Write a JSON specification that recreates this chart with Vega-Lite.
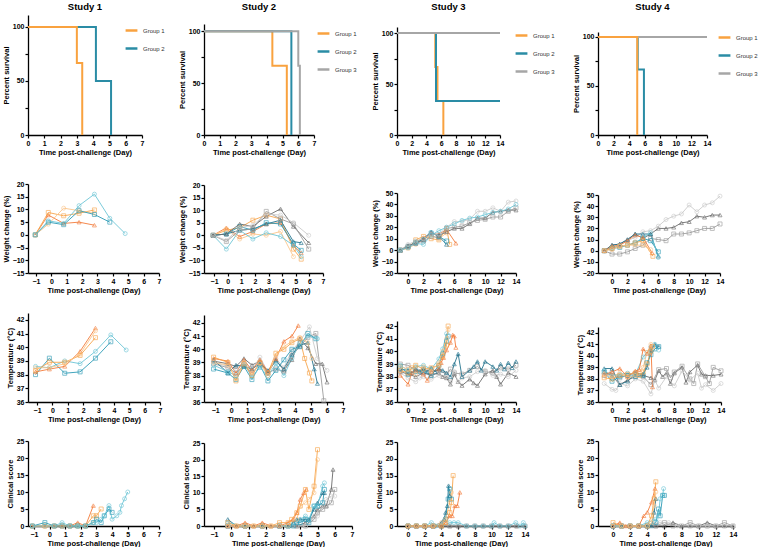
{
"$schema": "https://vega.github.io/schema/vega-lite/v6.json",
"padding": {"left": 2, "top": 1, "right": 0, "bottom": 0},
"config": {
 "view": {"stroke": null},
 "font": "Liberation Sans",
 "axis": {"grid": false, "labelOverlap": false, "labelFlush": false, "domainColor": "#000", "domainWidth": 1.3, "tickColor": "#000", "tickWidth": 1.2, "tickSize": 3, "labelFont": "Liberation Sans", "labelFontWeight": "bold", "labelFontSize": 7, "labelColor": "#000", "titleFont": "Liberation Sans", "titleFontWeight": "bold", "titleFontSize": 7.5, "titleColor": "#000", "labelPadding": 1, "titlePadding": 2},
 "title": {"font": "Liberation Sans", "fontSize": 9.5, "fontWeight": "bold", "color": "#000", "offset": 4},
 "legend": {"title": null, "symbolType": "stroke", "symbolStrokeWidth": 2.5, "symbolSize": 140, "labelFontSize": 6, "labelFont": "Liberation Sans", "labelColor": "#333", "rowPadding": 5, "labelOffset": 4}
},
"datasets": {
 "s1": [{"g":"Group 2","x":0,"y":100},{"g":"Group 2","x":4.17,"y":50},{"g":"Group 2","x":5.1,"y":0},{"g":"Group 1","x":0,"y":100},{"g":"Group 1","x":3.0,"y":66.7},{"g":"Group 1","x":3.33,"y":0}],
 "s2": [{"g":"Group 1","x":0,"y":100},{"g":"Group 1","x":4.35,"y":66.7},{"g":"Group 1","x":5.27,"y":0},{"g":"Group 2","x":0,"y":100},{"g":"Group 2","x":5.56,"y":0},{"g":"Group 3","x":0,"y":100},{"g":"Group 3","x":6.0,"y":66.7},{"g":"Group 3","x":6.1,"y":0}],
 "s3": [{"g":"Group 1","x":0,"y":100},{"g":"Group 1","x":5.2,"y":66.7},{"g":"Group 1","x":5.5,"y":33.3},{"g":"Group 1","x":6.3,"y":0},{"g":"Group 2","x":0,"y":100},{"g":"Group 2","x":5.3,"y":33.3},{"g":"Group 2","x":14,"y":33.3},{"g":"Group 3","x":0,"y":100},{"g":"Group 3","x":14,"y":100}],
 "s4": [{"g":"Group 2","x":0,"y":100},{"g":"Group 2","x":5.1,"y":66.7},{"g":"Group 2","x":5.9,"y":0},{"g":"Group 3","x":0,"y":100},{"g":"Group 3","x":14,"y":100},{"g":"Group 1","x":0,"y":100},{"g":"Group 1","x":5.04,"y":0}],
 "w1": [
  {"a":"g1a","x":-1.05,"y":0},{"a":"g1a","x":-0.2,"y":7.8},{"a":"g1a","x":0.8,"y":4.5},{"a":"g1a","x":1.8,"y":5.0},{"a":"g1a","x":2.8,"y":3.8},
  {"a":"g1b","x":-1.05,"y":0},{"a":"g1b","x":-0.2,"y":8.8},{"a":"g1b","x":0.8,"y":7.5},{"a":"g1b","x":1.8,"y":8.5},{"a":"g1b","x":2.8,"y":9.8},
  {"a":"g1c","x":-1.05,"y":0},{"a":"g1c","x":-0.2,"y":4.2},{"a":"g1c","x":0.8,"y":10.5},{"a":"g1c","x":1.8,"y":9.5},{"a":"g1c","x":2.8,"y":8.5},
  {"a":"g2b","x":-1.05,"y":0},{"a":"g2b","x":-0.2,"y":5.0},{"a":"g2b","x":0.8,"y":4.0},{"a":"g2b","x":1.8,"y":9.5},{"a":"g2b","x":2.8,"y":8.0},{"a":"g2b","x":3.8,"y":5.0},
  {"a":"g2c","x":-1.05,"y":0},{"a":"g2c","x":-0.2,"y":5.5},{"a":"g2c","x":0.8,"y":4.5},{"a":"g2c","x":1.8,"y":11.5},{"a":"g2c","x":2.8,"y":16.0},{"a":"g2c","x":3.8,"y":6.5},{"a":"g2c","x":4.8,"y":0.5}],
 "w2": [
  {"a":"g1a","x":-1.07,"y":0},{"a":"g1a","x":-0.1,"y":3},{"a":"g1a","x":0.88,"y":-0.5},{"a":"g1a","x":1.85,"y":1.5},{"a":"g1a","x":2.83,"y":4.5},{"a":"g1a","x":3.88,"y":5},{"a":"g1a","x":4.83,"y":-4},{"a":"g1a","x":5.4,"y":-7},
  {"a":"g1b","x":-1.07,"y":0},{"a":"g1b","x":-0.1,"y":2},{"a":"g1b","x":0.88,"y":3},{"a":"g1b","x":1.85,"y":6},{"a":"g1b","x":2.83,"y":8},{"a":"g1b","x":3.88,"y":6.5},{"a":"g1b","x":4.83,"y":-5.5},{"a":"g1b","x":5.4,"y":-9.5},
  {"a":"g1c","x":-1.07,"y":0},{"a":"g1c","x":-0.1,"y":2.5},{"a":"g1c","x":0.88,"y":-1.5},{"a":"g1c","x":1.85,"y":0.5},{"a":"g1c","x":2.83,"y":0},{"a":"g1c","x":3.88,"y":1.5},{"a":"g1c","x":4.83,"y":-8.5},
  {"a":"g2a","x":-1.07,"y":0},{"a":"g2a","x":-0.1,"y":0.5},{"a":"g2a","x":0.88,"y":2},{"a":"g2a","x":1.85,"y":2.5},{"a":"g2a","x":2.83,"y":4.5},{"a":"g2a","x":3.88,"y":6},{"a":"g2a","x":4.83,"y":-2.5},{"a":"g2a","x":5.4,"y":-3},
  {"a":"g2b","x":-1.07,"y":0},{"a":"g2b","x":-0.1,"y":0.5},{"a":"g2b","x":0.88,"y":3.5},{"a":"g2b","x":1.85,"y":2},{"a":"g2b","x":2.83,"y":5},{"a":"g2b","x":3.88,"y":4.5},{"a":"g2b","x":4.83,"y":-3.5},{"a":"g2b","x":5.4,"y":-6},
  {"a":"g2c","x":-1.07,"y":0},{"a":"g2c","x":-0.1,"y":-5.5},{"a":"g2c","x":0.88,"y":2},{"a":"g2c","x":1.85,"y":-1.5},{"a":"g2c","x":2.83,"y":1},{"a":"g2c","x":3.88,"y":-0.5},{"a":"g2c","x":4.83,"y":-4},{"a":"g2c","x":5.4,"y":-8.5},
  {"a":"g3a","x":-1.07,"y":0},{"a":"g3a","x":-0.1,"y":0.5},{"a":"g3a","x":0.88,"y":4.5},{"a":"g3a","x":1.85,"y":3.5},{"a":"g3a","x":2.83,"y":7.5},{"a":"g3a","x":3.88,"y":10.5},{"a":"g3a","x":4.83,"y":3.5},{"a":"g3a","x":5.95,"y":-3},
  {"a":"g3b","x":-1.07,"y":0},{"a":"g3b","x":-0.1,"y":-2.5},{"a":"g3b","x":0.88,"y":2},{"a":"g3b","x":1.85,"y":2.5},{"a":"g3b","x":2.83,"y":9.5},{"a":"g3b","x":3.88,"y":6.5},{"a":"g3b","x":4.83,"y":4.5},{"a":"g3b","x":5.95,"y":-5.5},
  {"a":"g3c","x":-1.07,"y":0},{"a":"g3c","x":-0.1,"y":-2},{"a":"g3c","x":0.88,"y":3},{"a":"g3c","x":1.85,"y":4},{"a":"g3c","x":2.83,"y":8.5},{"a":"g3c","x":3.88,"y":8},{"a":"g3c","x":4.83,"y":5},{"a":"g3c","x":5.95,"y":0}],
 "w3": [
  {"a":"g1a","x":-1,"y":0},{"a":"g1a","x":0,"y":3},{"a":"g1a","x":1,"y":7},{"a":"g1a","x":2,"y":11},{"a":"g1a","x":3,"y":14},{"a":"g1a","x":4,"y":14},{"a":"g1a","x":5,"y":18},{"a":"g1a","x":6.2,"y":6},
  {"a":"g1b","x":-1,"y":0},{"a":"g1b","x":0,"y":2},{"a":"g1b","x":1,"y":9},{"a":"g1b","x":2,"y":12},{"a":"g1b","x":3,"y":10},{"a":"g1b","x":4,"y":9},{"a":"g1b","x":5,"y":19},{"a":"g1b","x":5.4,"y":5},
  {"a":"g1c","x":-1,"y":0},{"a":"g1c","x":0,"y":2},{"a":"g1c","x":1,"y":5},{"a":"g1c","x":2,"y":10},{"a":"g1c","x":3,"y":13},{"a":"g1c","x":4,"y":10},{"a":"g1c","x":5,"y":15},
  {"a":"g2a","x":-1,"y":0},{"a":"g2a","x":0,"y":4},{"a":"g2a","x":1,"y":6},{"a":"g2a","x":2,"y":10},{"a":"g2a","x":3,"y":16},{"a":"g2a","x":4,"y":12},{"a":"g2a","x":5,"y":5},
  {"a":"g2b","x":-1,"y":0},{"a":"g2b","x":0,"y":3},{"a":"g2b","x":1,"y":7},{"a":"g2b","x":2,"y":9},{"a":"g2b","x":3,"y":15},{"a":"g2b","x":4,"y":12},{"a":"g2b","x":5,"y":8},
  {"a":"g3a","x":-1,"y":0},{"a":"g3a","x":0,"y":4},{"a":"g3a","x":1,"y":6},{"a":"g3a","x":2,"y":9},{"a":"g3a","x":3,"y":15},{"a":"g3a","x":4,"y":13},{"a":"g3a","x":5,"y":16},{"a":"g3a","x":6,"y":19},{"a":"g3a","x":7,"y":19},{"a":"g3a","x":8,"y":23},{"a":"g3a","x":9,"y":28},{"a":"g3a","x":10,"y":28},{"a":"g3a","x":11,"y":33},{"a":"g3a","x":12,"y":34},{"a":"g3a","x":13,"y":35},{"a":"g3a","x":14,"y":35},
  {"a":"g3b","x":-1,"y":0},{"a":"g3b","x":0,"y":3},{"a":"g3b","x":1,"y":6},{"a":"g3b","x":2,"y":8},{"a":"g3b","x":3,"y":12},{"a":"g3b","x":4,"y":11},{"a":"g3b","x":5,"y":19},{"a":"g3b","x":6,"y":20},{"a":"g3b","x":7,"y":21},{"a":"g3b","x":8,"y":24},{"a":"g3b","x":9,"y":26},{"a":"g3b","x":10,"y":27},{"a":"g3b","x":11,"y":29},{"a":"g3b","x":12,"y":29},{"a":"g3b","x":13,"y":34},{"a":"g3b","x":14,"y":37},
  {"a":"g3c","x":-1,"y":0},{"a":"g3c","x":0,"y":5},{"a":"g3c","x":1,"y":8},{"a":"g3c","x":2,"y":10},{"a":"g3c","x":3,"y":14},{"a":"g3c","x":4,"y":14},{"a":"g3c","x":5,"y":20},{"a":"g3c","x":6,"y":25},{"a":"g3c","x":7,"y":25},{"a":"g3c","x":8,"y":27},{"a":"g3c","x":9,"y":34},{"a":"g3c","x":10,"y":34},{"a":"g3c","x":11,"y":37},{"a":"g3c","x":12,"y":34},{"a":"g3c","x":13,"y":42},{"a":"g3c","x":14,"y":43},
  {"a":"g2c","x":-1,"y":0},{"a":"g2c","x":0,"y":2},{"a":"g2c","x":1,"y":6},{"a":"g2c","x":2,"y":5},{"a":"g2c","x":3,"y":13},{"a":"g2c","x":4,"y":17},{"a":"g2c","x":5,"y":20},{"a":"g2c","x":6,"y":23},{"a":"g2c","x":7,"y":26},{"a":"g2c","x":8,"y":28},{"a":"g2c","x":9,"y":29},{"a":"g2c","x":10,"y":31},{"a":"g2c","x":11,"y":33},{"a":"g2c","x":12,"y":34},{"a":"g2c","x":13,"y":36},{"a":"g2c","x":14,"y":40}],
 "w4": [
  {"a":"g3a","x":-1,"y":0},{"a":"g3a","x":0,"y":5},{"a":"g3a","x":1,"y":6},{"a":"g3a","x":2,"y":10},{"a":"g3a","x":3,"y":15},{"a":"g3a","x":4,"y":11},{"a":"g3a","x":5,"y":15},{"a":"g3a","x":6,"y":20},{"a":"g3a","x":7,"y":20},{"a":"g3a","x":8,"y":21},{"a":"g3a","x":9,"y":25},{"a":"g3a","x":10,"y":26},{"a":"g3a","x":11,"y":31},{"a":"g3a","x":12,"y":30},{"a":"g3a","x":13,"y":32},{"a":"g3a","x":14,"y":32},
  {"a":"g3b","x":-1,"y":0},{"a":"g3b","x":0,"y":-3},{"a":"g3b","x":1,"y":-3},{"a":"g3b","x":2,"y":-1},{"a":"g3b","x":3,"y":2},{"a":"g3b","x":4,"y":5},{"a":"g3b","x":5,"y":11},{"a":"g3b","x":6,"y":10},{"a":"g3b","x":7,"y":9},{"a":"g3b","x":8,"y":15},{"a":"g3b","x":9,"y":15},{"a":"g3b","x":10,"y":16},{"a":"g3b","x":11,"y":18},{"a":"g3b","x":12,"y":20},{"a":"g3b","x":13,"y":20},{"a":"g3b","x":14,"y":24},
  {"a":"g3c","x":-1,"y":0},{"a":"g3c","x":0,"y":2},{"a":"g3c","x":1,"y":5},{"a":"g3c","x":2,"y":9},{"a":"g3c","x":3,"y":12},{"a":"g3c","x":4,"y":17},{"a":"g3c","x":5,"y":18},{"a":"g3c","x":6,"y":22},{"a":"g3c","x":7,"y":28},{"a":"g3c","x":8,"y":31},{"a":"g3c","x":9,"y":33},{"a":"g3c","x":10,"y":41},{"a":"g3c","x":11,"y":35},{"a":"g3c","x":12,"y":41},{"a":"g3c","x":13,"y":43},{"a":"g3c","x":14,"y":49},
  {"a":"g2a","x":-1,"y":0},{"a":"g2a","x":0,"y":5},{"a":"g2a","x":1,"y":6},{"a":"g2a","x":2,"y":10},{"a":"g2a","x":3,"y":15},{"a":"g2a","x":4,"y":15},{"a":"g2a","x":5,"y":15},{"a":"g2a","x":6,"y":-5},
  {"a":"g2b","x":-1,"y":0},{"a":"g2b","x":0,"y":2},{"a":"g2b","x":1,"y":3},{"a":"g2b","x":2,"y":5},{"a":"g2b","x":3,"y":7},{"a":"g2b","x":4,"y":11},{"a":"g2b","x":5,"y":9},{"a":"g2b","x":6,"y":-1},
  {"a":"g2c","x":-1,"y":0},{"a":"g2c","x":0,"y":3},{"a":"g2c","x":1,"y":4},{"a":"g2c","x":2,"y":5},{"a":"g2c","x":3,"y":7},{"a":"g2c","x":4,"y":12},{"a":"g2c","x":5,"y":16},{"a":"g2c","x":6,"y":-6},
  {"a":"g1a","x":-1,"y":0},{"a":"g1a","x":0,"y":4},{"a":"g1a","x":1,"y":5},{"a":"g1a","x":2,"y":9},{"a":"g1a","x":3,"y":14},{"a":"g1a","x":4,"y":12},{"a":"g1a","x":5.2,"y":-2},
  {"a":"g1b","x":-1,"y":0},{"a":"g1b","x":0,"y":2},{"a":"g1b","x":1,"y":4},{"a":"g1b","x":2,"y":5},{"a":"g1b","x":3,"y":7},{"a":"g1b","x":4,"y":9},{"a":"g1b","x":5.3,"y":-5},
  {"a":"g1c","x":-1,"y":0},{"a":"g1c","x":0,"y":1},{"a":"g1c","x":1,"y":4},{"a":"g1c","x":2,"y":5},{"a":"g1c","x":3,"y":5},{"a":"g1c","x":4,"y":5},{"a":"g1c","x":5,"y":1}],
 "t1": [
  {"a":"g2c","x":-1.1,"y":38.6},{"a":"g2c","x":-0.2,"y":38.5},{"a":"g2c","x":0.8,"y":39.0},{"a":"g2c","x":1.8,"y":38.8},{"a":"g2c","x":2.8,"y":39.7},{"a":"g2c","x":3.8,"y":40.9},{"a":"g2c","x":4.8,"y":39.8},
  {"a":"g2b","x":-1.1,"y":38.0},{"a":"g2b","x":-0.2,"y":39.2},{"a":"g2b","x":0.8,"y":38.1},{"a":"g2b","x":1.8,"y":38.2},{"a":"g2b","x":2.8,"y":39.2},{"a":"g2b","x":3.8,"y":40.4},
  {"a":"g1a","x":-1.1,"y":38.2},{"a":"g1a","x":-0.2,"y":38.4},{"a":"g1a","x":0.8,"y":38.6},{"a":"g1a","x":1.8,"y":39.7},{"a":"g1a","x":2.8,"y":41.4},
  {"a":"g1b","x":-1.1,"y":38.3},{"a":"g1b","x":-0.2,"y":38.9},{"a":"g1b","x":0.8,"y":38.9},{"a":"g1b","x":1.8,"y":39.4},{"a":"g1b","x":2.8,"y":40.7},
  {"a":"g1c","x":-1.1,"y":38.5},{"a":"g1c","x":-0.2,"y":38.5},{"a":"g1c","x":0.8,"y":38.8},{"a":"g1c","x":1.8,"y":39.5},{"a":"g1c","x":2.8,"y":41.2}],
 "t2": [
  {"a":"g3a","x":-1.1,"y":39.1},{"a":"g3a","x":-0.2,"y":38.9},{"a":"g3a","x":0.3,"y":38.7},{"a":"g3a","x":0.8,"y":39.3},{"a":"g3a","x":1.3,"y":38.8},{"a":"g3a","x":1.8,"y":39.1},{"a":"g3a","x":2.3,"y":38.2},{"a":"g3a","x":2.8,"y":39.2},{"a":"g3a","x":3.3,"y":38.4},{"a":"g3a","x":3.8,"y":39.2},{"a":"g3a","x":4.3,"y":40.8},{"a":"g3a","x":4.8,"y":40.1},{"a":"g3a","x":5.3,"y":38.9},{"a":"g3a","x":5.7,"y":38.9},{"a":"g3a","x":6.0,"y":37.5},
  {"a":"g3b","x":-1.1,"y":38.9},{"a":"g3b","x":-0.2,"y":38.6},{"a":"g3b","x":0.3,"y":38.2},{"a":"g3b","x":0.8,"y":38.8},{"a":"g3b","x":1.3,"y":38.2},{"a":"g3b","x":1.8,"y":38.9},{"a":"g3b","x":2.3,"y":38.2},{"a":"g3b","x":2.8,"y":38.5},{"a":"g3b","x":3.3,"y":38.3},{"a":"g3b","x":3.8,"y":39.5},{"a":"g3b","x":4.3,"y":40.2},{"a":"g3b","x":4.8,"y":40.9},{"a":"g3b","x":5.3,"y":41.2},{"a":"g3b","x":5.8,"y":36.1},
  {"a":"g3c","x":-1.1,"y":39.0},{"a":"g3c","x":-0.2,"y":38.7},{"a":"g3c","x":0.3,"y":38.5},{"a":"g3c","x":0.8,"y":39.0},{"a":"g3c","x":1.3,"y":38.4},{"a":"g3c","x":1.8,"y":39.4},{"a":"g3c","x":2.3,"y":38.3},{"a":"g3c","x":2.8,"y":39.3},{"a":"g3c","x":3.3,"y":38.6},{"a":"g3c","x":3.8,"y":39.9},{"a":"g3c","x":4.3,"y":40.6},{"a":"g3c","x":4.9,"y":41.7},{"a":"g3c","x":5.4,"y":39.3},{"a":"g3c","x":6.0,"y":38.4},
  {"a":"g2a","x":-1.1,"y":39.2},{"a":"g2a","x":-0.2,"y":38.2},{"a":"g2a","x":0.3,"y":38.8},{"a":"g2a","x":0.8,"y":38.7},{"a":"g2a","x":1.3,"y":38.5},{"a":"g2a","x":1.8,"y":38.9},{"a":"g2a","x":2.3,"y":38.4},{"a":"g2a","x":2.8,"y":39.1},{"a":"g2a","x":3.3,"y":38.5},{"a":"g2a","x":3.8,"y":39.6},{"a":"g2a","x":4.3,"y":40.3},{"a":"g2a","x":4.8,"y":40.5},{"a":"g2a","x":5.2,"y":38.5},{"a":"g2a","x":5.4,"y":37.4},
  {"a":"g2b","x":-1.1,"y":38.5},{"a":"g2b","x":-0.2,"y":38.2},{"a":"g2b","x":0.3,"y":37.7},{"a":"g2b","x":0.8,"y":38.7},{"a":"g2b","x":1.3,"y":37.7},{"a":"g2b","x":1.8,"y":38.8},{"a":"g2b","x":2.3,"y":37.6},{"a":"g2b","x":2.8,"y":38.4},{"a":"g2b","x":3.3,"y":39.2},{"a":"g2b","x":3.8,"y":40.0},{"a":"g2b","x":4.3,"y":40.2},{"a":"g2b","x":4.8,"y":41.2},{"a":"g2b","x":5.3,"y":40.8},
  {"a":"g2c","x":-1.1,"y":38.8},{"a":"g2c","x":-0.2,"y":38.3},{"a":"g2c","x":0.3,"y":38.0},{"a":"g2c","x":0.8,"y":38.9},{"a":"g2c","x":1.3,"y":37.9},{"a":"g2c","x":1.8,"y":38.6},{"a":"g2c","x":2.3,"y":38.0},{"a":"g2c","x":2.8,"y":38.9},{"a":"g2c","x":3.3,"y":38.0},{"a":"g2c","x":3.8,"y":39.3},{"a":"g2c","x":4.3,"y":40.5},{"a":"g2c","x":4.8,"y":41.0},{"a":"g2c","x":5.4,"y":40.8},
  {"a":"g1a","x":-1.1,"y":39.3},{"a":"g1a","x":-0.2,"y":39.1},{"a":"g1a","x":0.3,"y":38.2},{"a":"g1a","x":0.8,"y":39.2},{"a":"g1a","x":1.3,"y":38.4},{"a":"g1a","x":1.8,"y":39.2},{"a":"g1a","x":2.3,"y":38.3},{"a":"g1a","x":2.8,"y":39.3},{"a":"g1a","x":3.3,"y":40.6},{"a":"g1a","x":3.8,"y":41.0},{"a":"g1a","x":4.2,"y":41.8},
  {"a":"g1b","x":-1.1,"y":39.4},{"a":"g1b","x":-0.2,"y":39.0},{"a":"g1b","x":0.3,"y":37.6},{"a":"g1b","x":0.8,"y":38.9},{"a":"g1b","x":1.3,"y":38.0},{"a":"g1b","x":1.8,"y":39.0},{"a":"g1b","x":2.3,"y":38.2},{"a":"g1b","x":2.8,"y":39.7},{"a":"g1b","x":3.3,"y":40.0},{"a":"g1b","x":3.8,"y":40.5},{"a":"g1b","x":4.3,"y":40.8},{"a":"g1b","x":4.6,"y":39.3},{"a":"g1b","x":4.9,"y":38.2},{"a":"g1b","x":5.05,"y":37.6},
  {"a":"g1c","x":-1.1,"y":39.0},{"a":"g1c","x":-0.2,"y":38.8},{"a":"g1c","x":0.3,"y":37.8},{"a":"g1c","x":0.8,"y":39.0},{"a":"g1c","x":1.3,"y":38.2},{"a":"g1c","x":1.8,"y":38.9},{"a":"g1c","x":2.3,"y":38.0},{"a":"g1c","x":2.8,"y":39.5},{"a":"g1c","x":3.3,"y":40.2},{"a":"g1c","x":3.8,"y":40.6},{"a":"g1c","x":4.3,"y":40.9},{"a":"g1c","x":4.8,"y":40.5},{"a":"g1c","x":5.05,"y":39.3}],
 "t3": [
  {"a":"g3a","x":-1,"y":38.4},{"a":"g3a","x":0,"y":38.2},{"a":"g3a","x":1,"y":38.0},{"a":"g3a","x":2,"y":38.3},{"a":"g3a","x":3,"y":38.1},{"a":"g3a","x":4,"y":38.3},{"a":"g3a","x":4.5,"y":38.0},{"a":"g3a","x":5,"y":37.9},{"a":"g3a","x":5.5,"y":37.4},{"a":"g3a","x":6,"y":38.2},{"a":"g3a","x":6.5,"y":37.6},{"a":"g3a","x":7,"y":37.3},{"a":"g3a","x":8,"y":37.8},{"a":"g3a","x":8.5,"y":37.5},{"a":"g3a","x":9,"y":37.3},{"a":"g3a","x":10,"y":38.2},{"a":"g3a","x":11,"y":38.5},{"a":"g3a","x":11.5,"y":38.0},{"a":"g3a","x":12,"y":37.4},{"a":"g3a","x":13,"y":38.3},{"a":"g3a","x":14,"y":38.0},
  {"a":"g3b","x":-1,"y":39.0},{"a":"g3b","x":0,"y":38.9},{"a":"g3b","x":1,"y":38.5},{"a":"g3b","x":2,"y":38.6},{"a":"g3b","x":3,"y":38.4},{"a":"g3b","x":4,"y":38.5},{"a":"g3b","x":5,"y":38.2},{"a":"g3b","x":5.5,"y":38.6},{"a":"g3b","x":6,"y":38.3},{"a":"g3b","x":7,"y":38.2},{"a":"g3b","x":8,"y":38.5},{"a":"g3b","x":9,"y":38.8},{"a":"g3b","x":10,"y":38.4},{"a":"g3b","x":11,"y":38.3},{"a":"g3b","x":12,"y":38.7},{"a":"g3b","x":13,"y":38.6},{"a":"g3b","x":14,"y":38.9},
  {"a":"g3c","x":-1,"y":38.3},{"a":"g3c","x":0,"y":37.9},{"a":"g3c","x":1,"y":37.6},{"a":"g3c","x":1.5,"y":37.9},{"a":"g3c","x":2,"y":38.0},{"a":"g3c","x":3,"y":37.8},{"a":"g3c","x":4,"y":38.1},{"a":"g3c","x":5,"y":38.0},{"a":"g3c","x":5.5,"y":37.6},{"a":"g3c","x":6,"y":38.4},{"a":"g3c","x":6.5,"y":37.6},{"a":"g3c","x":7,"y":37.9},{"a":"g3c","x":8,"y":38.0},{"a":"g3c","x":9,"y":38.4},{"a":"g3c","x":10,"y":38.5},{"a":"g3c","x":11,"y":38.1},{"a":"g3c","x":12,"y":38.2},{"a":"g3c","x":13,"y":38.0},{"a":"g3c","x":14,"y":38.5},
  {"a":"g2a","x":-1,"y":38.6},{"a":"g2a","x":0,"y":38.5},{"a":"g2a","x":0.5,"y":38.3},{"a":"g2a","x":1,"y":38.6},{"a":"g2a","x":1.5,"y":38.4},{"a":"g2a","x":2,"y":38.6},{"a":"g2a","x":2.5,"y":38.4},{"a":"g2a","x":3,"y":38.7},{"a":"g2a","x":3.5,"y":38.4},{"a":"g2a","x":4,"y":38.6},{"a":"g2a","x":4.5,"y":38.5},{"a":"g2a","x":5,"y":38.3},{"a":"g2a","x":5.5,"y":38.0},{"a":"g2a","x":6,"y":39.0},{"a":"g2a","x":6.5,"y":39.8},{"a":"g2a","x":7,"y":38.0},{"a":"g2a","x":8,"y":38.5},{"a":"g2a","x":8.5,"y":38.8},{"a":"g2a","x":9,"y":39.2},{"a":"g2a","x":9.5,"y":38.5},{"a":"g2a","x":10,"y":39.2},{"a":"g2a","x":11,"y":38.8},{"a":"g2a","x":11.5,"y":38.5},{"a":"g2a","x":12,"y":39.0},{"a":"g2a","x":12.5,"y":38.6},{"a":"g2a","x":13,"y":39.1},{"a":"g2a","x":13.5,"y":38.7},{"a":"g2a","x":14,"y":39.2},
  {"a":"g2b","x":-1,"y":38.8},{"a":"g2b","x":0,"y":38.2},{"a":"g2b","x":1,"y":38.4},{"a":"g2b","x":2,"y":38.5},{"a":"g2b","x":3,"y":38.1},{"a":"g2b","x":4,"y":38.9},{"a":"g2b","x":4.5,"y":39.8},{"a":"g2b","x":5,"y":40.8},{"a":"g2b","x":5.2,"y":41.2},
  {"a":"g2c","x":-1,"y":38.9},{"a":"g2c","x":0,"y":38.5},{"a":"g2c","x":1,"y":38.8},{"a":"g2c","x":2,"y":38.9},{"a":"g2c","x":3,"y":38.6},{"a":"g2c","x":4,"y":39.4},{"a":"g2c","x":4.5,"y":40.2},{"a":"g2c","x":5,"y":41.4},
  {"a":"g1a","x":-1,"y":38.1},{"a":"g1a","x":0,"y":37.4},{"a":"g1a","x":0.5,"y":38.3},{"a":"g1a","x":1,"y":38.5},{"a":"g1a","x":2,"y":38.2},{"a":"g1a","x":2.5,"y":37.7},{"a":"g1a","x":3,"y":38.4},{"a":"g1a","x":4,"y":38.6},{"a":"g1a","x":4.3,"y":39.1},{"a":"g1a","x":4.6,"y":39.5},{"a":"g1a","x":5,"y":40.1},{"a":"g1a","x":5.5,"y":40.7},{"a":"g1a","x":5.8,"y":41.3},{"a":"g1a","x":6,"y":41.2},{"a":"g1a","x":6.2,"y":40.3},
  {"a":"g1b","x":-1,"y":38.5},{"a":"g1b","x":0,"y":38.3},{"a":"g1b","x":0.5,"y":38.7},{"a":"g1b","x":1,"y":38.9},{"a":"g1b","x":2,"y":38.6},{"a":"g1b","x":3,"y":38.7},{"a":"g1b","x":4,"y":38.9},{"a":"g1b","x":4.5,"y":39.6},{"a":"g1b","x":5,"y":40.5},{"a":"g1b","x":5.2,"y":42.0},
  {"a":"g1c","x":-1,"y":38.8},{"a":"g1c","x":0,"y":38.6},{"a":"g1c","x":1,"y":38.2},{"a":"g1c","x":2,"y":38.8},{"a":"g1c","x":3,"y":38.4},{"a":"g1c","x":4,"y":39.1},{"a":"g1c","x":4.5,"y":40.0},{"a":"g1c","x":5,"y":41.0},{"a":"g1c","x":5.2,"y":41.7}],
 "t4": [
  {"a":"g3a","x":-1,"y":38.6},{"a":"g3a","x":0,"y":38.3},{"a":"g3a","x":1,"y":37.5},{"a":"g3a","x":2,"y":37.9},{"a":"g3a","x":3,"y":38.2},{"a":"g3a","x":4,"y":38.3},{"a":"g3a","x":5,"y":38.1},{"a":"g3a","x":5.5,"y":37.9},{"a":"g3a","x":6,"y":38.7},{"a":"g3a","x":6.5,"y":38.2},{"a":"g3a","x":7,"y":38.5},{"a":"g3a","x":7.5,"y":37.6},{"a":"g3a","x":8,"y":38.5},{"a":"g3a","x":9,"y":39.0},{"a":"g3a","x":9.5,"y":37.7},{"a":"g3a","x":10,"y":38.6},{"a":"g3a","x":11,"y":39.2},{"a":"g3a","x":11.5,"y":38.4},{"a":"g3a","x":12,"y":38.3},{"a":"g3a","x":13,"y":38.3},{"a":"g3a","x":14,"y":38.4},
  {"a":"g3b","x":-1,"y":38.3},{"a":"g3b","x":0,"y":38.5},{"a":"g3b","x":1,"y":38.1},{"a":"g3b","x":2,"y":38.3},{"a":"g3b","x":3,"y":38.5},{"a":"g3b","x":4,"y":38.2},{"a":"g3b","x":5,"y":37.5},{"a":"g3b","x":6,"y":38.8},{"a":"g3b","x":7,"y":38.9},{"a":"g3b","x":7.5,"y":38.1},{"a":"g3b","x":8,"y":38.6},{"a":"g3b","x":9,"y":39.1},{"a":"g3b","x":10,"y":38.0},{"a":"g3b","x":10.5,"y":37.6},{"a":"g3b","x":11,"y":39.3},{"a":"g3b","x":12,"y":38.2},{"a":"g3b","x":12.5,"y":37.6},{"a":"g3b","x":13,"y":39.0},{"a":"g3b","x":14,"y":38.7},
  {"a":"g3c","x":-1,"y":37.6},{"a":"g3c","x":0,"y":37.1},{"a":"g3c","x":0.5,"y":37.0},{"a":"g3c","x":1,"y":37.6},{"a":"g3c","x":2,"y":37.4},{"a":"g3c","x":3,"y":38.0},{"a":"g3c","x":4,"y":37.8},{"a":"g3c","x":5,"y":36.7},{"a":"g3c","x":5.5,"y":37.9},{"a":"g3c","x":6,"y":37.2},{"a":"g3c","x":7,"y":38.2},{"a":"g3c","x":8,"y":37.4},{"a":"g3c","x":9,"y":38.7},{"a":"g3c","x":10,"y":37.9},{"a":"g3c","x":11,"y":38.5},{"a":"g3c","x":11.5,"y":37.2},{"a":"g3c","x":12,"y":37.5},{"a":"g3c","x":13,"y":37.0},{"a":"g3c","x":14,"y":37.6},
  {"a":"g2a","x":-1,"y":38.9},{"a":"g2a","x":0,"y":38.9},{"a":"g2a","x":1,"y":37.5},{"a":"g2a","x":2,"y":37.8},{"a":"g2a","x":3,"y":38.5},{"a":"g2a","x":4,"y":38.4},{"a":"g2a","x":4.5,"y":39.0},{"a":"g2a","x":5,"y":40.5},{"a":"g2a","x":5.5,"y":41.0},{"a":"g2a","x":6,"y":40.8},
  {"a":"g2b","x":-1,"y":38.6},{"a":"g2b","x":0,"y":37.8},{"a":"g2b","x":1,"y":38.2},{"a":"g2b","x":2,"y":38.3},{"a":"g2b","x":3,"y":38.2},{"a":"g2b","x":4,"y":38.3},{"a":"g2b","x":4.5,"y":39.4},{"a":"g2b","x":5,"y":40.1},{"a":"g2b","x":5.5,"y":40.6},{"a":"g2b","x":6,"y":40.8},
  {"a":"g2c","x":-1,"y":38.7},{"a":"g2c","x":0,"y":38.3},{"a":"g2c","x":1,"y":38.4},{"a":"g2c","x":2,"y":38.5},{"a":"g2c","x":3,"y":38.4},{"a":"g2c","x":4,"y":39.9},{"a":"g2c","x":4.5,"y":40.3},{"a":"g2c","x":5,"y":40.8},{"a":"g2c","x":5.5,"y":41.0},{"a":"g2c","x":6,"y":40.5},
  {"a":"g1a","x":-1,"y":38.4},{"a":"g1a","x":0,"y":38.6},{"a":"g1a","x":1,"y":38.9},{"a":"g1a","x":2,"y":38.2},{"a":"g1a","x":3,"y":38.7},{"a":"g1a","x":3.5,"y":38.8},{"a":"g1a","x":4,"y":40.6},{"a":"g1a","x":4.5,"y":40.2},{"a":"g1a","x":5,"y":40.9},{"a":"g1a","x":5.2,"y":37.3},
  {"a":"g1b","x":-1,"y":38.1},{"a":"g1b","x":0,"y":38.0},{"a":"g1b","x":1,"y":38.3},{"a":"g1b","x":2,"y":38.4},{"a":"g1b","x":3,"y":38.5},{"a":"g1b","x":3.5,"y":38.3},{"a":"g1b","x":4,"y":38.6},{"a":"g1b","x":4.5,"y":39.3},{"a":"g1b","x":5,"y":40.4},{"a":"g1b","x":5.2,"y":40.8},
  {"a":"g1c","x":-1,"y":38.4},{"a":"g1c","x":0,"y":38.2},{"a":"g1c","x":1,"y":38.5},{"a":"g1c","x":2,"y":38.1},{"a":"g1c","x":3,"y":38.3},{"a":"g1c","x":4,"y":39.0},{"a":"g1c","x":4.5,"y":40.3},{"a":"g1c","x":5,"y":41.0}],
 "c1": [
  {"a":"g1a","x":-1.1,"y":0},{"a":"g1a","x":-0.3,"y":0},{"a":"g1a","x":0.3,"y":0},{"a":"g1a","x":0.8,"y":0},{"a":"g1a","x":1.3,"y":0},{"a":"g1a","x":1.8,"y":1},{"a":"g1a","x":2.3,"y":0},{"a":"g1a","x":2.8,"y":6},
  {"a":"g1b","x":-1.1,"y":0},{"a":"g1b","x":-0.3,"y":0},{"a":"g1b","x":0.3,"y":0},{"a":"g1b","x":0.8,"y":0},{"a":"g1b","x":1.3,"y":0},{"a":"g1b","x":1.8,"y":0},{"a":"g1b","x":2.3,"y":0},{"a":"g1b","x":2.8,"y":3},{"a":"g1b","x":3.0,"y":3},{"a":"g1b","x":3.3,"y":5},
  {"a":"g1c","x":-1.1,"y":0},{"a":"g1c","x":-0.3,"y":0},{"a":"g1c","x":0.3,"y":0},{"a":"g1c","x":0.8,"y":0},{"a":"g1c","x":1.3,"y":0},{"a":"g1c","x":1.8,"y":0},{"a":"g1c","x":2.3,"y":0},{"a":"g1c","x":2.8,"y":1},{"a":"g1c","x":3.0,"y":3},
  {"a":"g2b","x":-1.1,"y":0},{"a":"g2b","x":-0.3,"y":1},{"a":"g2b","x":0.3,"y":0},{"a":"g2b","x":0.8,"y":0},{"a":"g2b","x":1.3,"y":0},{"a":"g2b","x":1.8,"y":0},{"a":"g2b","x":2.3,"y":0},{"a":"g2b","x":2.8,"y":1},{"a":"g2b","x":3.0,"y":2},{"a":"g2b","x":3.3,"y":1},{"a":"g2b","x":3.5,"y":3},{"a":"g2b","x":3.8,"y":5},{"a":"g2b","x":4.0,"y":4},
  {"a":"g2c","x":-1.1,"y":0},{"a":"g2c","x":-0.3,"y":0},{"a":"g2c","x":0.3,"y":0},{"a":"g2c","x":0.8,"y":1},{"a":"g2c","x":1.3,"y":0},{"a":"g2c","x":1.8,"y":0},{"a":"g2c","x":2.3,"y":0},{"a":"g2c","x":2.8,"y":1},{"a":"g2c","x":3.0,"y":1},{"a":"g2c","x":3.3,"y":2},{"a":"g2c","x":3.5,"y":3},{"a":"g2c","x":3.8,"y":6},{"a":"g2c","x":4.0,"y":2},{"a":"g2c","x":4.3,"y":3},{"a":"g2c","x":4.5,"y":4},{"a":"g2c","x":4.6,"y":6},{"a":"g2c","x":4.8,"y":8},{"a":"g2c","x":5.0,"y":10}],
 "c2": [
  {"a":"g3a","x":-0.2,"y":0},{"a":"g3a","x":0.8,"y":0},{"a":"g3a","x":1.8,"y":0},{"a":"g3a","x":2.8,"y":0},{"a":"g3a","x":3.3,"y":0},{"a":"g3a","x":3.8,"y":0},{"a":"g3a","x":4.3,"y":1},{"a":"g3a","x":4.8,"y":3},{"a":"g3a","x":5.0,"y":5},{"a":"g3a","x":5.3,"y":6},{"a":"g3a","x":5.5,"y":6},{"a":"g3a","x":5.8,"y":11},{"a":"g3a","x":5.9,"y":17},
  {"a":"g3b","x":-0.2,"y":0},{"a":"g3b","x":0.8,"y":0},{"a":"g3b","x":1.8,"y":0},{"a":"g3b","x":2.8,"y":0},{"a":"g3b","x":3.8,"y":0},{"a":"g3b","x":4.3,"y":0},{"a":"g3b","x":4.8,"y":2},{"a":"g3b","x":5.0,"y":4},{"a":"g3b","x":5.3,"y":5},{"a":"g3b","x":5.5,"y":6},{"a":"g3b","x":5.8,"y":7},{"a":"g3b","x":6.0,"y":11},
  {"a":"g3c","x":-0.2,"y":0},{"a":"g3c","x":0.8,"y":0},{"a":"g3c","x":1.8,"y":0},{"a":"g3c","x":2.8,"y":0},{"a":"g3c","x":3.8,"y":0},{"a":"g3c","x":4.3,"y":0},{"a":"g3c","x":4.8,"y":3},{"a":"g3c","x":5.0,"y":3},{"a":"g3c","x":5.3,"y":6},{"a":"g3c","x":5.5,"y":8},{"a":"g3c","x":5.8,"y":9},{"a":"g3c","x":6.0,"y":9},
  {"a":"g2a","x":-0.2,"y":2},{"a":"g2a","x":0.3,"y":0},{"a":"g2a","x":0.8,"y":0},{"a":"g2a","x":1.3,"y":0},{"a":"g2a","x":1.8,"y":0},{"a":"g2a","x":2.3,"y":0},{"a":"g2a","x":2.8,"y":0},{"a":"g2a","x":3.3,"y":0},{"a":"g2a","x":3.6,"y":1},{"a":"g2a","x":3.8,"y":2},{"a":"g2a","x":4.0,"y":2},{"a":"g2a","x":4.3,"y":2},{"a":"g2a","x":4.5,"y":2},{"a":"g2a","x":4.8,"y":5},{"a":"g2a","x":5.0,"y":7},{"a":"g2a","x":5.3,"y":10},{"a":"g2a","x":5.4,"y":10},
  {"a":"g2b","x":-0.2,"y":0},{"a":"g2b","x":0.8,"y":0},{"a":"g2b","x":1.8,"y":0},{"a":"g2b","x":2.8,"y":0},{"a":"g2b","x":3.3,"y":0},{"a":"g2b","x":3.6,"y":0},{"a":"g2b","x":3.8,"y":1},{"a":"g2b","x":4.0,"y":1},{"a":"g2b","x":4.3,"y":2},{"a":"g2b","x":4.5,"y":1},{"a":"g2b","x":4.8,"y":6},{"a":"g2b","x":5.0,"y":6},{"a":"g2b","x":5.3,"y":7},{"a":"g2b","x":5.4,"y":11},
  {"a":"g2c","x":-0.2,"y":1},{"a":"g2c","x":0.8,"y":0},{"a":"g2c","x":1.8,"y":0},{"a":"g2c","x":2.8,"y":0},{"a":"g2c","x":3.3,"y":0},{"a":"g2c","x":3.6,"y":1},{"a":"g2c","x":4.0,"y":2},{"a":"g2c","x":4.3,"y":3},{"a":"g2c","x":4.5,"y":2},{"a":"g2c","x":4.8,"y":6},{"a":"g2c","x":5.0,"y":6},{"a":"g2c","x":5.3,"y":12},{"a":"g2c","x":5.4,"y":13},
  {"a":"g1a","x":-0.2,"y":0},{"a":"g1a","x":0.3,"y":0},{"a":"g1a","x":0.8,"y":1},{"a":"g1a","x":1.3,"y":0},{"a":"g1a","x":1.8,"y":1},{"a":"g1a","x":2.3,"y":0},{"a":"g1a","x":2.8,"y":0},{"a":"g1a","x":3.3,"y":1},{"a":"g1a","x":3.6,"y":2},{"a":"g1a","x":3.8,"y":4},{"a":"g1a","x":4.0,"y":8},{"a":"g1a","x":4.2,"y":10},{"a":"g1a","x":4.35,"y":11},
  {"a":"g1b","x":-0.2,"y":1},{"a":"g1b","x":0.3,"y":0},{"a":"g1b","x":0.8,"y":0},{"a":"g1b","x":1.3,"y":0},{"a":"g1b","x":1.8,"y":0},{"a":"g1b","x":2.3,"y":0},{"a":"g1b","x":2.8,"y":1},{"a":"g1b","x":3.3,"y":1},{"a":"g1b","x":3.5,"y":2},{"a":"g1b","x":3.8,"y":4},{"a":"g1b","x":4.0,"y":6},{"a":"g1b","x":4.3,"y":11},{"a":"g1b","x":4.5,"y":5},{"a":"g1b","x":4.8,"y":12},{"a":"g1b","x":5.0,"y":23},
  {"a":"g1c","x":-0.2,"y":0},{"a":"g1c","x":0.3,"y":0},{"a":"g1c","x":0.8,"y":0},{"a":"g1c","x":1.3,"y":0},{"a":"g1c","x":1.8,"y":0},{"a":"g1c","x":2.3,"y":0},{"a":"g1c","x":2.8,"y":0},{"a":"g1c","x":3.3,"y":0},{"a":"g1c","x":3.8,"y":2},{"a":"g1c","x":4.0,"y":6},{"a":"g1c","x":4.3,"y":7},{"a":"g1c","x":4.5,"y":8},{"a":"g1c","x":4.8,"y":10},{"a":"g1c","x":5.0,"y":20}],
 "c3": [
  {"a":"g3a","x":0,"y":0},{"a":"g3a","x":1,"y":0},{"a":"g3a","x":2,"y":0},{"a":"g3a","x":3,"y":0},{"a":"g3a","x":4,"y":0},{"a":"g3a","x":5,"y":0},{"a":"g3a","x":6,"y":0},{"a":"g3a","x":7,"y":0},{"a":"g3a","x":8,"y":0},{"a":"g3a","x":9,"y":0},{"a":"g3a","x":10,"y":0},{"a":"g3a","x":11,"y":0},{"a":"g3a","x":12,"y":0},{"a":"g3a","x":13,"y":0},{"a":"g3a","x":14,"y":0},
  {"a":"g3b","x":0,"y":0},{"a":"g3b","x":1,"y":0},{"a":"g3b","x":2,"y":0},{"a":"g3b","x":3,"y":0},{"a":"g3b","x":4,"y":0},{"a":"g3b","x":5,"y":0},{"a":"g3b","x":6,"y":0},{"a":"g3b","x":7,"y":0},{"a":"g3b","x":8,"y":0},{"a":"g3b","x":9,"y":0},{"a":"g3b","x":10,"y":0},{"a":"g3b","x":11,"y":0},{"a":"g3b","x":12,"y":0},{"a":"g3b","x":13,"y":0},{"a":"g3b","x":14,"y":0},
  {"a":"g2c","x":0,"y":0},{"a":"g2c","x":1,"y":0},{"a":"g2c","x":2,"y":0},{"a":"g2c","x":2.8,"y":1},{"a":"g2c","x":3.3,"y":0},{"a":"g2c","x":4,"y":0},{"a":"g2c","x":5,"y":1},{"a":"g2c","x":5.5,"y":1},{"a":"g2c","x":6,"y":1},{"a":"g2c","x":7,"y":0},{"a":"g2c","x":8,"y":0},{"a":"g2c","x":9,"y":0},{"a":"g2c","x":10,"y":0},{"a":"g2c","x":10.3,"y":1},{"a":"g2c","x":11,"y":0},{"a":"g2c","x":12,"y":0},{"a":"g2c","x":12.9,"y":1},{"a":"g2c","x":13.4,"y":0},{"a":"g2c","x":13.8,"y":1},{"a":"g2c","x":14,"y":0},
  {"a":"g2a","x":0,"y":0},{"a":"g2a","x":1,"y":0},{"a":"g2a","x":2,"y":0},{"a":"g2a","x":3,"y":0},{"a":"g2a","x":4,"y":1},{"a":"g2a","x":4.3,"y":2},{"a":"g2a","x":4.5,"y":4},{"a":"g2a","x":4.7,"y":6},{"a":"g2a","x":4.85,"y":12},{"a":"g2a","x":5.0,"y":9},
  {"a":"g2b","x":0,"y":0},{"a":"g2b","x":1,"y":0},{"a":"g2b","x":2,"y":0},{"a":"g2b","x":3,"y":0},{"a":"g2b","x":4,"y":0},{"a":"g2b","x":4.5,"y":2},{"a":"g2b","x":4.8,"y":8},{"a":"g2b","x":5.0,"y":11},{"a":"g2b","x":5.2,"y":8},
  {"a":"g1a","x":0,"y":0},{"a":"g1a","x":1,"y":0},{"a":"g1a","x":2,"y":0},{"a":"g1a","x":3,"y":0},{"a":"g1a","x":4,"y":0},{"a":"g1a","x":4.5,"y":1},{"a":"g1a","x":5.0,"y":3},{"a":"g1a","x":5.3,"y":3},{"a":"g1a","x":5.6,"y":6},{"a":"g1a","x":5.9,"y":6},{"a":"g1a","x":6.2,"y":10},
  {"a":"g1b","x":0,"y":0},{"a":"g1b","x":1,"y":0},{"a":"g1b","x":2,"y":0},{"a":"g1b","x":3,"y":0},{"a":"g1b","x":4,"y":0},{"a":"g1b","x":4.5,"y":1},{"a":"g1b","x":5.0,"y":4},{"a":"g1b","x":5.2,"y":7},{"a":"g1b","x":5.4,"y":15},
  {"a":"g1c","x":0,"y":0},{"a":"g1c","x":1,"y":0},{"a":"g1c","x":2,"y":0},{"a":"g1c","x":3,"y":0},{"a":"g1c","x":4,"y":1},{"a":"g1c","x":4.5,"y":2},{"a":"g1c","x":5.0,"y":7},{"a":"g1c","x":5.2,"y":10}],
 "c4": [
  {"a":"g3a","x":0,"y":0},{"a":"g3a","x":1,"y":0},{"a":"g3a","x":2,"y":0},{"a":"g3a","x":3,"y":0},{"a":"g3a","x":4,"y":0},{"a":"g3a","x":5,"y":0},{"a":"g3a","x":6,"y":0},{"a":"g3a","x":7,"y":1},{"a":"g3a","x":8,"y":0},{"a":"g3a","x":9,"y":0},{"a":"g3a","x":10,"y":0},{"a":"g3a","x":11,"y":1},{"a":"g3a","x":12,"y":0},{"a":"g3a","x":13,"y":0},{"a":"g3a","x":14,"y":0},
  {"a":"g3b","x":0,"y":0},{"a":"g3b","x":1,"y":0},{"a":"g3b","x":2,"y":0},{"a":"g3b","x":3,"y":0},{"a":"g3b","x":4,"y":0},{"a":"g3b","x":5,"y":0},{"a":"g3b","x":6,"y":1},{"a":"g3b","x":7,"y":0},{"a":"g3b","x":8,"y":0},{"a":"g3b","x":9,"y":1},{"a":"g3b","x":10,"y":0},{"a":"g3b","x":11,"y":0},{"a":"g3b","x":12,"y":0},{"a":"g3b","x":13,"y":1},{"a":"g3b","x":14,"y":0},
  {"a":"g3c","x":0,"y":0},{"a":"g3c","x":1,"y":0},{"a":"g3c","x":2,"y":0},{"a":"g3c","x":3,"y":0},{"a":"g3c","x":4,"y":0},{"a":"g3c","x":5.5,"y":1},{"a":"g3c","x":6.5,"y":1},{"a":"g3c","x":7.5,"y":0},{"a":"g3c","x":9,"y":0},{"a":"g3c","x":10,"y":0},{"a":"g3c","x":11,"y":0},{"a":"g3c","x":12,"y":0},{"a":"g3c","x":13,"y":0},{"a":"g3c","x":14,"y":0},
  {"a":"g2a","x":0,"y":0},{"a":"g2a","x":1,"y":0},{"a":"g2a","x":2,"y":0},{"a":"g2a","x":3,"y":0},{"a":"g2a","x":4,"y":0},{"a":"g2a","x":4.5,"y":0},{"a":"g2a","x":4.8,"y":4},{"a":"g2a","x":5.0,"y":8},
  {"a":"g2b","x":0,"y":0},{"a":"g2b","x":1,"y":0},{"a":"g2b","x":2,"y":0},{"a":"g2b","x":3,"y":0},{"a":"g2b","x":4,"y":0},{"a":"g2b","x":5,"y":1},{"a":"g2b","x":5.3,"y":5},{"a":"g2b","x":5.5,"y":3},{"a":"g2b","x":5.8,"y":9},{"a":"g2b","x":6.0,"y":9},
  {"a":"g2c","x":0,"y":0},{"a":"g2c","x":1,"y":0},{"a":"g2c","x":2,"y":0},{"a":"g2c","x":3,"y":0},{"a":"g2c","x":4,"y":1},{"a":"g2c","x":5,"y":2},{"a":"g2c","x":5.3,"y":3},{"a":"g2c","x":5.5,"y":8},{"a":"g2c","x":5.8,"y":9},{"a":"g2c","x":5.9,"y":11},
  {"a":"g1a","x":0,"y":0},{"a":"g1a","x":0.8,"y":1},{"a":"g1a","x":1.5,"y":0},{"a":"g1a","x":2,"y":0},{"a":"g1a","x":3,"y":0},{"a":"g1a","x":3.6,"y":3},{"a":"g1a","x":4.0,"y":4},{"a":"g1a","x":4.5,"y":7},{"a":"g1a","x":4.9,"y":11},
  {"a":"g1b","x":0,"y":1},{"a":"g1b","x":1,"y":0},{"a":"g1b","x":2,"y":0},{"a":"g1b","x":3,"y":0},{"a":"g1b","x":4,"y":0},{"a":"g1b","x":4.5,"y":3},{"a":"g1b","x":4.8,"y":8},{"a":"g1b","x":5.0,"y":13},
  {"a":"g1c","x":0,"y":0},{"a":"g1c","x":1,"y":0},{"a":"g1c","x":2,"y":0},{"a":"g1c","x":3,"y":0},{"a":"g1c","x":4,"y":0},{"a":"g1c","x":4.5,"y":1},{"a":"g1c","x":4.8,"y":6},{"a":"g1c","x":5.0,"y":10}]
},
"columns": 7,
"align": "each",
"bounds": "flush",
"spacing": {"row": 37, "column": 0},
"resolve": {"scale": {"color": "independent", "shape": "independent"}, "legend": {"color": "independent", "shape": "independent"}},
"concat": [
 {"width": 114, "height": 120, "title": "Study 1", "data": {"name": "s1"},
  "mark": {"type": "line", "interpolate": "step-after", "strokeWidth": 2},
  "encoding": {
   "x": {"field": "x", "type": "quantitative", "scale": {"domain": [0, 7], "nice": false}, "axis": {"values": [0,1,2,3,4,5,6,7], "labelOverlap": false, "title": "Time post-challenge (Day)"}},
   "y": {"field": "y", "type": "quantitative", "scale": {"domain": [0, 111], "range": [120, 0], "nice": false}, "axis": {"values": [0,25,50,75,100], "labelOverlap": false, "labelExpr": "datum.value % 50 == 0 ? datum.label : ''", "title": "Percent survival"}},
   "color": {"field": "g", "type": "nominal", "scale": {"domain": ["Group 1","Group 2"], "range": ["#F9A23F","#2A8CA5"]}, "legend": {"orient": "none", "legendX": 96, "legendY": 8}}}},
 {"width": 44, "height": 10, "data": {"values": []}, "mark": "point"},
 {"width": 110, "height": 120, "title": "Study 2", "data": {"name": "s2"},
  "mark": {"type": "line", "interpolate": "step-after", "strokeWidth": 2},
  "encoding": {
   "x": {"field": "x", "type": "quantitative", "scale": {"domain": [0, 7], "nice": false}, "axis": {"values": [0,1,2,3,4,5,6,7], "labelOverlap": false, "title": "Time post-challenge (Day)"}},
   "y": {"field": "y", "type": "quantitative", "scale": {"domain": [0, 107], "range": [120, 9], "nice": false}, "axis": {"values": [0,25,50,75,100], "labelOverlap": false, "labelExpr": "datum.value % 50 == 0 ? datum.label : ''", "title": "Percent survival"}},
   "color": {"field": "g", "type": "nominal", "scale": {"domain": ["Group 1","Group 2","Group 3"], "range": ["#F9A23F","#2A8CA5","#A6A6A6"]}, "legend": {"orient": "none", "legendX": 112, "legendY": 11}}}},
 {"width": 45, "height": 10, "data": {"values": []}, "mark": "point"},
 {"width": 103, "height": 120, "title": "Study 3", "data": {"name": "s3"},
  "mark": {"type": "line", "interpolate": "step-after", "strokeWidth": 2},
  "encoding": {
   "x": {"field": "x", "type": "quantitative", "scale": {"domain": [0, 14], "nice": false}, "axis": {"values": [0,2,4,6,8,10,12,14], "labelOverlap": false, "title": "Time post-challenge (Day)"}},
   "y": {"field": "y", "type": "quantitative", "scale": {"domain": [0, 106], "range": [120, 12], "nice": false}, "axis": {"values": [0,25,50,75,100], "labelOverlap": false, "labelExpr": "datum.value % 50 == 0 ? datum.label : ''", "title": "Percent survival"}},
   "color": {"field": "g", "type": "nominal", "scale": {"domain": ["Group 1","Group 2","Group 3"], "range": ["#F9A23F","#2A8CA5","#A6A6A6"]}, "legend": {"orient": "none", "legendX": 117, "legendY": 13}}}},
 {"width": 73, "height": 10, "data": {"values": []}, "mark": "point"},
 {"width": 109, "height": 120, "title": "Study 4", "data": {"name": "s4"},
  "mark": {"type": "line", "interpolate": "step-after", "strokeWidth": 2},
  "encoding": {
   "x": {"field": "x", "type": "quantitative", "scale": {"domain": [0, 14], "nice": false}, "axis": {"values": [0,2,4,6,8,10,12,14], "labelOverlap": false, "title": "Time post-challenge (Day)"}},
   "y": {"field": "y", "type": "quantitative", "scale": {"domain": [0, 105], "range": [120, 17], "nice": false}, "axis": {"values": [0,25,50,75,100], "labelOverlap": false, "labelExpr": "datum.value % 50 == 0 ? datum.label : ''", "title": "Percent survival"}},
   "color": {"field": "g", "type": "nominal", "scale": {"domain": ["Group 1","Group 2","Group 3"], "range": ["#F9A23F","#2A8CA5","#A6A6A6"]}, "legend": {"orient": "none", "legendX": 119, "legendY": 15}}}},

 {"width": 131, "height": 101, "data": {"name": "w1"},
  "encoding": {
   "x": {"field": "x", "type": "quantitative", "scale": {"domain": [-1.52, 7], "nice": false, "zero": false}, "axis": {"values": [-1,0,1,2,3,4,5,6,7], "labelOverlap": false, "title": "Time post-challenge (Day)"}},
   "y": {"field": "y", "type": "quantitative", "scale": {"domain": [-15, 20], "range": [101, 12], "nice": false, "zero": false}, "axis": {"values": [-15,-10,-5,0,5,10,15,20], "labelOverlap": false, "title": "Weight change (%)"}}},
  "layer": [
   {"data": {"values": [{"y": 0}]}, "mark": {"type": "rule", "color": "#cfcfcf", "strokeDash": [3,2], "strokeWidth": 0.8}, "encoding": {"x": {"datum": -1}, "x2": {"datum": 7}}},
   {"mark": {"type": "line", "strokeWidth": 0.9}, "encoding": {
     "color": {"field": "a", "type": "nominal", "scale": {"domain": ["g1a","g1b","g1c","g2a","g2b","g2c","g3a","g3b","g3c"], "range": ["#F37B3A","#F7A54C","#FBC58A","#23738D","#2C9BB6","#6CC5D6","#6B6B6B","#9C9C9C","#CBCBCB"]}, "legend": null}}},
   {"mark": {"type": "point", "filled": false, "size": 16, "strokeWidth": 0.9}, "encoding": {
     "color": {"field": "a", "type": "nominal", "legend": null},
     "shape": {"field": "a", "type": "nominal", "scale": {"domain": ["g1a","g1b","g1c","g2a","g2b","g2c","g3a","g3b","g3c"], "range": ["triangle-up","square","circle","triangle-up","square","circle","triangle-up","square","circle"]}, "legend": null}}}]},
 {"width": 44, "height": 10, "data": {"values": []}, "mark": "point"},
 {"width": 119, "height": 101, "data": {"name": "w2"},
  "encoding": {
   "x": {"field": "x", "type": "quantitative", "scale": {"domain": [-1.74, 7], "nice": false, "zero": false}, "axis": {"values": [-1,0,1,2,3,4,5,6,7], "labelOverlap": false, "title": "Time post-challenge (Day)"}},
   "y": {"field": "y", "type": "quantitative", "scale": {"domain": [-15, 20], "range": [101, 13], "nice": false, "zero": false}, "axis": {"values": [-15,-10,-5,0,5,10,15,20], "labelOverlap": false, "title": "Weight change (%)"}}},
  "layer": [
   {"data": {"values": [{"y": 0}]}, "mark": {"type": "rule", "color": "#cfcfcf", "strokeDash": [3,2], "strokeWidth": 0.8}, "encoding": {"x": {"datum": -1}, "x2": {"datum": 7}}},
   {"mark": {"type": "line", "strokeWidth": 0.9}, "encoding": {
     "color": {"field": "a", "type": "nominal", "scale": {"domain": ["g1a","g1b","g1c","g2a","g2b","g2c","g3a","g3b","g3c"], "range": ["#F37B3A","#F7A54C","#FBC58A","#23738D","#2C9BB6","#6CC5D6","#6B6B6B","#9C9C9C","#CBCBCB"]}, "legend": null}}},
   {"mark": {"type": "point", "filled": false, "size": 16, "strokeWidth": 0.9}, "encoding": {
     "color": {"field": "a", "type": "nominal", "legend": null},
     "shape": {"field": "a", "type": "nominal", "scale": {"domain": ["g1a","g1b","g1c","g2a","g2b","g2c","g3a","g3b","g3c"], "range": ["triangle-up","square","circle","triangle-up","square","circle","triangle-up","square","circle"]}, "legend": null}}}]},
 {"width": 45, "height": 10, "data": {"values": []}, "mark": "point"},
 {"width": 119, "height": 101, "data": {"name": "w3"},
  "encoding": {
   "x": {"field": "x", "type": "quantitative", "scale": {"domain": [-1.43, 14], "nice": false, "zero": false}, "axis": {"values": [0,2,4,6,8,10,12,14], "labelOverlap": false, "title": "Time post-challenge (Day)"}},
   "y": {"field": "y", "type": "quantitative", "scale": {"domain": [-20, 50], "range": [101, 21], "nice": false, "zero": false}, "axis": {"values": [-20,-10,0,10,20,30,40,50], "labelOverlap": false, "title": "Weight change (%)"}}},
  "layer": [
   {"data": {"values": [{"y": 0}]}, "mark": {"type": "rule", "color": "#cfcfcf", "strokeDash": [3,2], "strokeWidth": 0.8}, "encoding": {"x": {"datum": -1}, "x2": {"datum": 14.3}}},
   {"mark": {"type": "line", "strokeWidth": 0.9}, "encoding": {
     "color": {"field": "a", "type": "nominal", "scale": {"domain": ["g1a","g1b","g1c","g2a","g2b","g2c","g3a","g3b","g3c"], "range": ["#F37B3A","#F7A54C","#FBC58A","#23738D","#2C9BB6","#6CC5D6","#6B6B6B","#9C9C9C","#CBCBCB"]}, "legend": null}}},
   {"mark": {"type": "point", "filled": false, "size": 16, "strokeWidth": 0.9}, "encoding": {
     "color": {"field": "a", "type": "nominal", "legend": null},
     "shape": {"field": "a", "type": "nominal", "scale": {"domain": ["g1a","g1b","g1c","g2a","g2b","g2c","g3a","g3b","g3c"], "range": ["triangle-up","square","circle","triangle-up","square","circle","triangle-up","square","circle"]}, "legend": null}}}]},
 {"width": 73, "height": 10, "data": {"values": []}, "mark": "point"},
 {"width": 122, "height": 101, "data": {"name": "w4"},
  "encoding": {
   "x": {"field": "x", "type": "quantitative", "scale": {"domain": [-1.82, 14], "nice": false, "zero": false}, "axis": {"values": [0,2,4,6,8,10,12,14], "labelOverlap": false, "title": "Time post-challenge (Day)"}},
   "y": {"field": "y", "type": "quantitative", "scale": {"domain": [-20, 50], "range": [101, 23], "nice": false, "zero": false}, "axis": {"values": [-20,-10,0,10,20,30,40,50], "labelOverlap": false, "title": "Weight change (%)"}}},
  "layer": [
   {"data": {"values": [{"y": 0}]}, "mark": {"type": "rule", "color": "#cfcfcf", "strokeDash": [3,2], "strokeWidth": 0.8}, "encoding": {"x": {"datum": -1}, "x2": {"datum": 14}}},
   {"mark": {"type": "line", "strokeWidth": 0.9}, "encoding": {
     "color": {"field": "a", "type": "nominal", "scale": {"domain": ["g1a","g1b","g1c","g2a","g2b","g2c","g3a","g3b","g3c"], "range": ["#F37B3A","#F7A54C","#FBC58A","#23738D","#2C9BB6","#6CC5D6","#6B6B6B","#9C9C9C","#CBCBCB"]}, "legend": null}}},
   {"mark": {"type": "point", "filled": false, "size": 16, "strokeWidth": 0.9}, "encoding": {
     "color": {"field": "a", "type": "nominal", "legend": null},
     "shape": {"field": "a", "type": "nominal", "scale": {"domain": ["g1a","g1b","g1c","g2a","g2b","g2c","g3a","g3b","g3c"], "range": ["triangle-up","square","circle","triangle-up","square","circle","triangle-up","square","circle"]}, "legend": null}}}]},

 {"width": 132, "height": 92, "data": {"name": "t1"},
  "encoding": {
   "x": {"field": "x", "type": "quantitative", "scale": {"domain": [-1.59, 7], "nice": false, "zero": false}, "axis": {"values": [-1,0,1,2,3,4,5,6,7], "labelOverlap": false, "title": "Time post-challenge (Day)"}},
   "y": {"field": "y", "type": "quantitative", "scale": {"domain": [36, 42.5], "range": [92, 3], "nice": false, "zero": false}, "axis": {"values": [36,37,38,39,40,41,42], "labelOverlap": false, "title": "Temperature (°C)"}}},
  "layer": [
   {"mark": {"type": "line", "strokeWidth": 0.9}, "encoding": {
     "color": {"field": "a", "type": "nominal", "scale": {"domain": ["g1a","g1b","g1c","g2a","g2b","g2c","g3a","g3b","g3c"], "range": ["#F37B3A","#F7A54C","#FBC58A","#23738D","#2C9BB6","#6CC5D6","#6B6B6B","#9C9C9C","#CBCBCB"]}, "legend": null}}},
   {"mark": {"type": "point", "filled": false, "size": 16, "strokeWidth": 0.9}, "encoding": {
     "color": {"field": "a", "type": "nominal", "legend": null},
     "shape": {"field": "a", "type": "nominal", "scale": {"domain": ["g1a","g1b","g1c","g2a","g2b","g2c","g3a","g3b","g3c"], "range": ["triangle-up","square","circle","triangle-up","square","circle","triangle-up","square","circle"]}, "legend": null}}}]},
 {"width": 44, "height": 10, "data": {"values": []}, "mark": "point"},
 {"width": 139, "height": 92, "data": {"name": "t2"},
  "encoding": {
   "x": {"field": "x", "type": "quantitative", "scale": {"domain": [-1.7, 7], "nice": false, "zero": false}, "axis": {"values": [-1,0,1,2,3,4,5,6,7], "labelOverlap": false, "title": "Time post-challenge (Day)"}},
   "y": {"field": "y", "type": "quantitative", "scale": {"domain": [36, 42.6], "range": [92, 5], "nice": false, "zero": false}, "axis": {"values": [36,37,38,39,40,41,42], "labelOverlap": false, "title": "Temperature (°C)"}}},
  "layer": [
   {"mark": {"type": "line", "strokeWidth": 0.9}, "encoding": {
     "color": {"field": "a", "type": "nominal", "scale": {"domain": ["g1a","g1b","g1c","g2a","g2b","g2c","g3a","g3b","g3c"], "range": ["#F37B3A","#F7A54C","#FBC58A","#23738D","#2C9BB6","#6CC5D6","#6B6B6B","#9C9C9C","#CBCBCB"]}, "legend": null}}},
   {"mark": {"type": "point", "filled": false, "size": 16, "strokeWidth": 0.9}, "encoding": {
     "color": {"field": "a", "type": "nominal", "legend": null},
     "shape": {"field": "a", "type": "nominal", "scale": {"domain": ["g1a","g1b","g1c","g2a","g2b","g2c","g3a","g3b","g3c"], "range": ["triangle-up","square","circle","triangle-up","square","circle","triangle-up","square","circle"]}, "legend": null}}}]},
 {"width": 45, "height": 10, "data": {"values": []}, "mark": "point"},
 {"width": 119, "height": 92, "data": {"name": "t3"},
  "encoding": {
   "x": {"field": "x", "type": "quantitative", "scale": {"domain": [-1.43, 14], "nice": false, "zero": false}, "axis": {"values": [0,2,4,6,8,10,12,14], "labelOverlap": false, "title": "Time post-challenge (Day)"}},
   "y": {"field": "y", "type": "quantitative", "scale": {"domain": [36, 42.4], "range": [92, 11], "nice": false, "zero": false}, "axis": {"values": [36,37,38,39,40,41,42], "labelOverlap": false, "title": "Temperature (°C)"}}},
  "layer": [
   {"mark": {"type": "line", "strokeWidth": 0.9}, "encoding": {
     "color": {"field": "a", "type": "nominal", "scale": {"domain": ["g1a","g1b","g1c","g2a","g2b","g2c","g3a","g3b","g3c"], "range": ["#F37B3A","#F7A54C","#FBC58A","#23738D","#2C9BB6","#6CC5D6","#6B6B6B","#9C9C9C","#CBCBCB"]}, "legend": null}}},
   {"mark": {"type": "point", "filled": false, "size": 16, "strokeWidth": 0.9}, "encoding": {
     "color": {"field": "a", "type": "nominal", "legend": null},
     "shape": {"field": "a", "type": "nominal", "scale": {"domain": ["g1a","g1b","g1c","g2a","g2b","g2c","g3a","g3b","g3c"], "range": ["triangle-up","square","circle","triangle-up","square","circle","triangle-up","square","circle"]}, "legend": null}}}]},
 {"width": 73, "height": 10, "data": {"values": []}, "mark": "point"},
 {"width": 123, "height": 92, "data": {"name": "t4"},
  "encoding": {
   "x": {"field": "x", "type": "quantitative", "scale": {"domain": [-1.8, 14], "nice": false, "zero": false}, "axis": {"values": [0,2,4,6,8,10,12,14], "labelOverlap": false, "title": "Time post-challenge (Day)"}},
   "y": {"field": "y", "type": "quantitative", "scale": {"domain": [36, 42.5], "range": [92, 17], "nice": false, "zero": false}, "axis": {"values": [36,37,38,39,40,41,42], "labelOverlap": false, "title": "Temperature (°C)"}}},
  "layer": [
   {"mark": {"type": "line", "strokeWidth": 0.9}, "encoding": {
     "color": {"field": "a", "type": "nominal", "scale": {"domain": ["g1a","g1b","g1c","g2a","g2b","g2c","g3a","g3b","g3c"], "range": ["#F37B3A","#F7A54C","#FBC58A","#23738D","#2C9BB6","#6CC5D6","#6B6B6B","#9C9C9C","#CBCBCB"]}, "legend": null}}},
   {"mark": {"type": "point", "filled": false, "size": 16, "strokeWidth": 0.9}, "encoding": {
     "color": {"field": "a", "type": "nominal", "legend": null},
     "shape": {"field": "a", "type": "nominal", "scale": {"domain": ["g1a","g1b","g1c","g2a","g2b","g2c","g3a","g3b","g3c"], "range": ["triangle-up","square","circle","triangle-up","square","circle","triangle-up","square","circle"]}, "legend": null}}}]},

 {"width": 131, "height": 87, "data": {"name": "c1"},
  "encoding": {
   "x": {"field": "x", "type": "quantitative", "scale": {"domain": [-1.38, 7], "nice": false, "zero": false}, "axis": {"values": [-1,0,1,2,3,4,5,6,7], "labelOverlap": false, "title": "Time post-challenge (Day)"}},
   "y": {"field": "y", "type": "quantitative", "scale": {"domain": [0, 25], "range": [87, 2], "nice": false}, "axis": {"values": [0,5,10,15,20,25], "labelOverlap": false, "title": "Clinical score"}}},
  "layer": [
   {"mark": {"type": "line", "strokeWidth": 0.9}, "encoding": {
     "color": {"field": "a", "type": "nominal", "scale": {"domain": ["g1a","g1b","g1c","g2a","g2b","g2c","g3a","g3b","g3c"], "range": ["#F37B3A","#F7A54C","#FBC58A","#23738D","#2C9BB6","#6CC5D6","#6B6B6B","#9C9C9C","#CBCBCB"]}, "legend": null}}},
   {"mark": {"type": "point", "filled": false, "size": 16, "strokeWidth": 0.9}, "encoding": {
     "color": {"field": "a", "type": "nominal", "legend": null},
     "shape": {"field": "a", "type": "nominal", "scale": {"domain": ["g1a","g1b","g1c","g2a","g2b","g2c","g3a","g3b","g3c"], "range": ["triangle-up","square","circle","triangle-up","square","circle","triangle-up","square","circle"]}, "legend": null}}}]},
 {"width": 44, "height": 10, "data": {"values": []}, "mark": "point"},
 {"width": 148, "height": 87, "data": {"name": "c2"},
  "encoding": {
   "x": {"field": "x", "type": "quantitative", "scale": {"domain": [-1.58, 7], "nice": false, "zero": false}, "axis": {"values": [-1,0,1,2,3,4,5,6,7], "labelOverlap": false, "title": "Time post-challenge (Day)"}},
   "y": {"field": "y", "type": "quantitative", "scale": {"domain": [0, 25], "range": [87, 4], "nice": false}, "axis": {"values": [0,5,10,15,20,25], "labelOverlap": false, "title": "Clinical score"}}},
  "layer": [
   {"mark": {"type": "line", "strokeWidth": 0.9}, "encoding": {
     "color": {"field": "a", "type": "nominal", "scale": {"domain": ["g1a","g1b","g1c","g2a","g2b","g2c","g3a","g3b","g3c"], "range": ["#F37B3A","#F7A54C","#FBC58A","#23738D","#2C9BB6","#6CC5D6","#6B6B6B","#9C9C9C","#CBCBCB"]}, "legend": null}}},
   {"mark": {"type": "point", "filled": false, "size": 16, "strokeWidth": 0.9}, "encoding": {
     "color": {"field": "a", "type": "nominal", "legend": null},
     "shape": {"field": "a", "type": "nominal", "scale": {"domain": ["g1a","g1b","g1c","g2a","g2b","g2c","g3a","g3b","g3c"], "range": ["triangle-up","square","circle","triangle-up","square","circle","triangle-up","square","circle"]}, "legend": null}}}]},
 {"width": 45, "height": 10, "data": {"values": []}, "mark": "point"},
 {"width": 128, "height": 87, "data": {"name": "c3"},
  "encoding": {
   "x": {"field": "x", "type": "quantitative", "scale": {"domain": [-1.32, 14], "nice": false, "zero": false}, "axis": {"values": [0,2,4,6,8,10,12,14], "labelOverlap": false, "title": "Time post-challenge (Day)"}},
   "y": {"field": "y", "type": "quantitative", "scale": {"domain": [0, 25], "range": [87, 3], "nice": false}, "axis": {"values": [0,5,10,15,20,25], "labelOverlap": false, "title": "Clinical score"}}},
  "layer": [
   {"mark": {"type": "line", "strokeWidth": 0.9}, "encoding": {
     "color": {"field": "a", "type": "nominal", "scale": {"domain": ["g1a","g1b","g1c","g2a","g2b","g2c","g3a","g3b","g3c"], "range": ["#F37B3A","#F7A54C","#FBC58A","#23738D","#2C9BB6","#6CC5D6","#6B6B6B","#9C9C9C","#CBCBCB"]}, "legend": null}}},
   {"mark": {"type": "point", "filled": false, "size": 16, "strokeWidth": 0.9}, "encoding": {
     "color": {"field": "a", "type": "nominal", "legend": null},
     "shape": {"field": "a", "type": "nominal", "scale": {"domain": ["g1a","g1b","g1c","g2a","g2b","g2c","g3a","g3b","g3c"], "range": ["triangle-up","square","circle","triangle-up","square","circle","triangle-up","square","circle"]}, "legend": null}}}]},
 {"width": 73, "height": 10, "data": {"values": []}, "mark": "point"},
 {"width": 135, "height": 87, "data": {"name": "c4"},
  "encoding": {
   "x": {"field": "x", "type": "quantitative", "scale": {"domain": [-1.75, 14], "nice": false, "zero": false}, "axis": {"values": [0,2,4,6,8,10,12,14], "labelOverlap": false, "title": "Time post-challenge (Day)"}},
   "y": {"field": "y", "type": "quantitative", "scale": {"domain": [0, 25], "range": [87, 2], "nice": false}, "axis": {"values": [0,5,10,15,20,25], "labelOverlap": false, "title": "Clinical score"}}},
  "layer": [
   {"mark": {"type": "line", "strokeWidth": 0.9}, "encoding": {
     "color": {"field": "a", "type": "nominal", "scale": {"domain": ["g1a","g1b","g1c","g2a","g2b","g2c","g3a","g3b","g3c"], "range": ["#F37B3A","#F7A54C","#FBC58A","#23738D","#2C9BB6","#6CC5D6","#6B6B6B","#9C9C9C","#CBCBCB"]}, "legend": null}}},
   {"mark": {"type": "point", "filled": false, "size": 16, "strokeWidth": 0.9}, "encoding": {
     "color": {"field": "a", "type": "nominal", "legend": null},
     "shape": {"field": "a", "type": "nominal", "scale": {"domain": ["g1a","g1b","g1c","g2a","g2b","g2c","g3a","g3b","g3c"], "range": ["triangle-up","square","circle","triangle-up","square","circle","triangle-up","square","circle"]}, "legend": null}}}]}
]
}
